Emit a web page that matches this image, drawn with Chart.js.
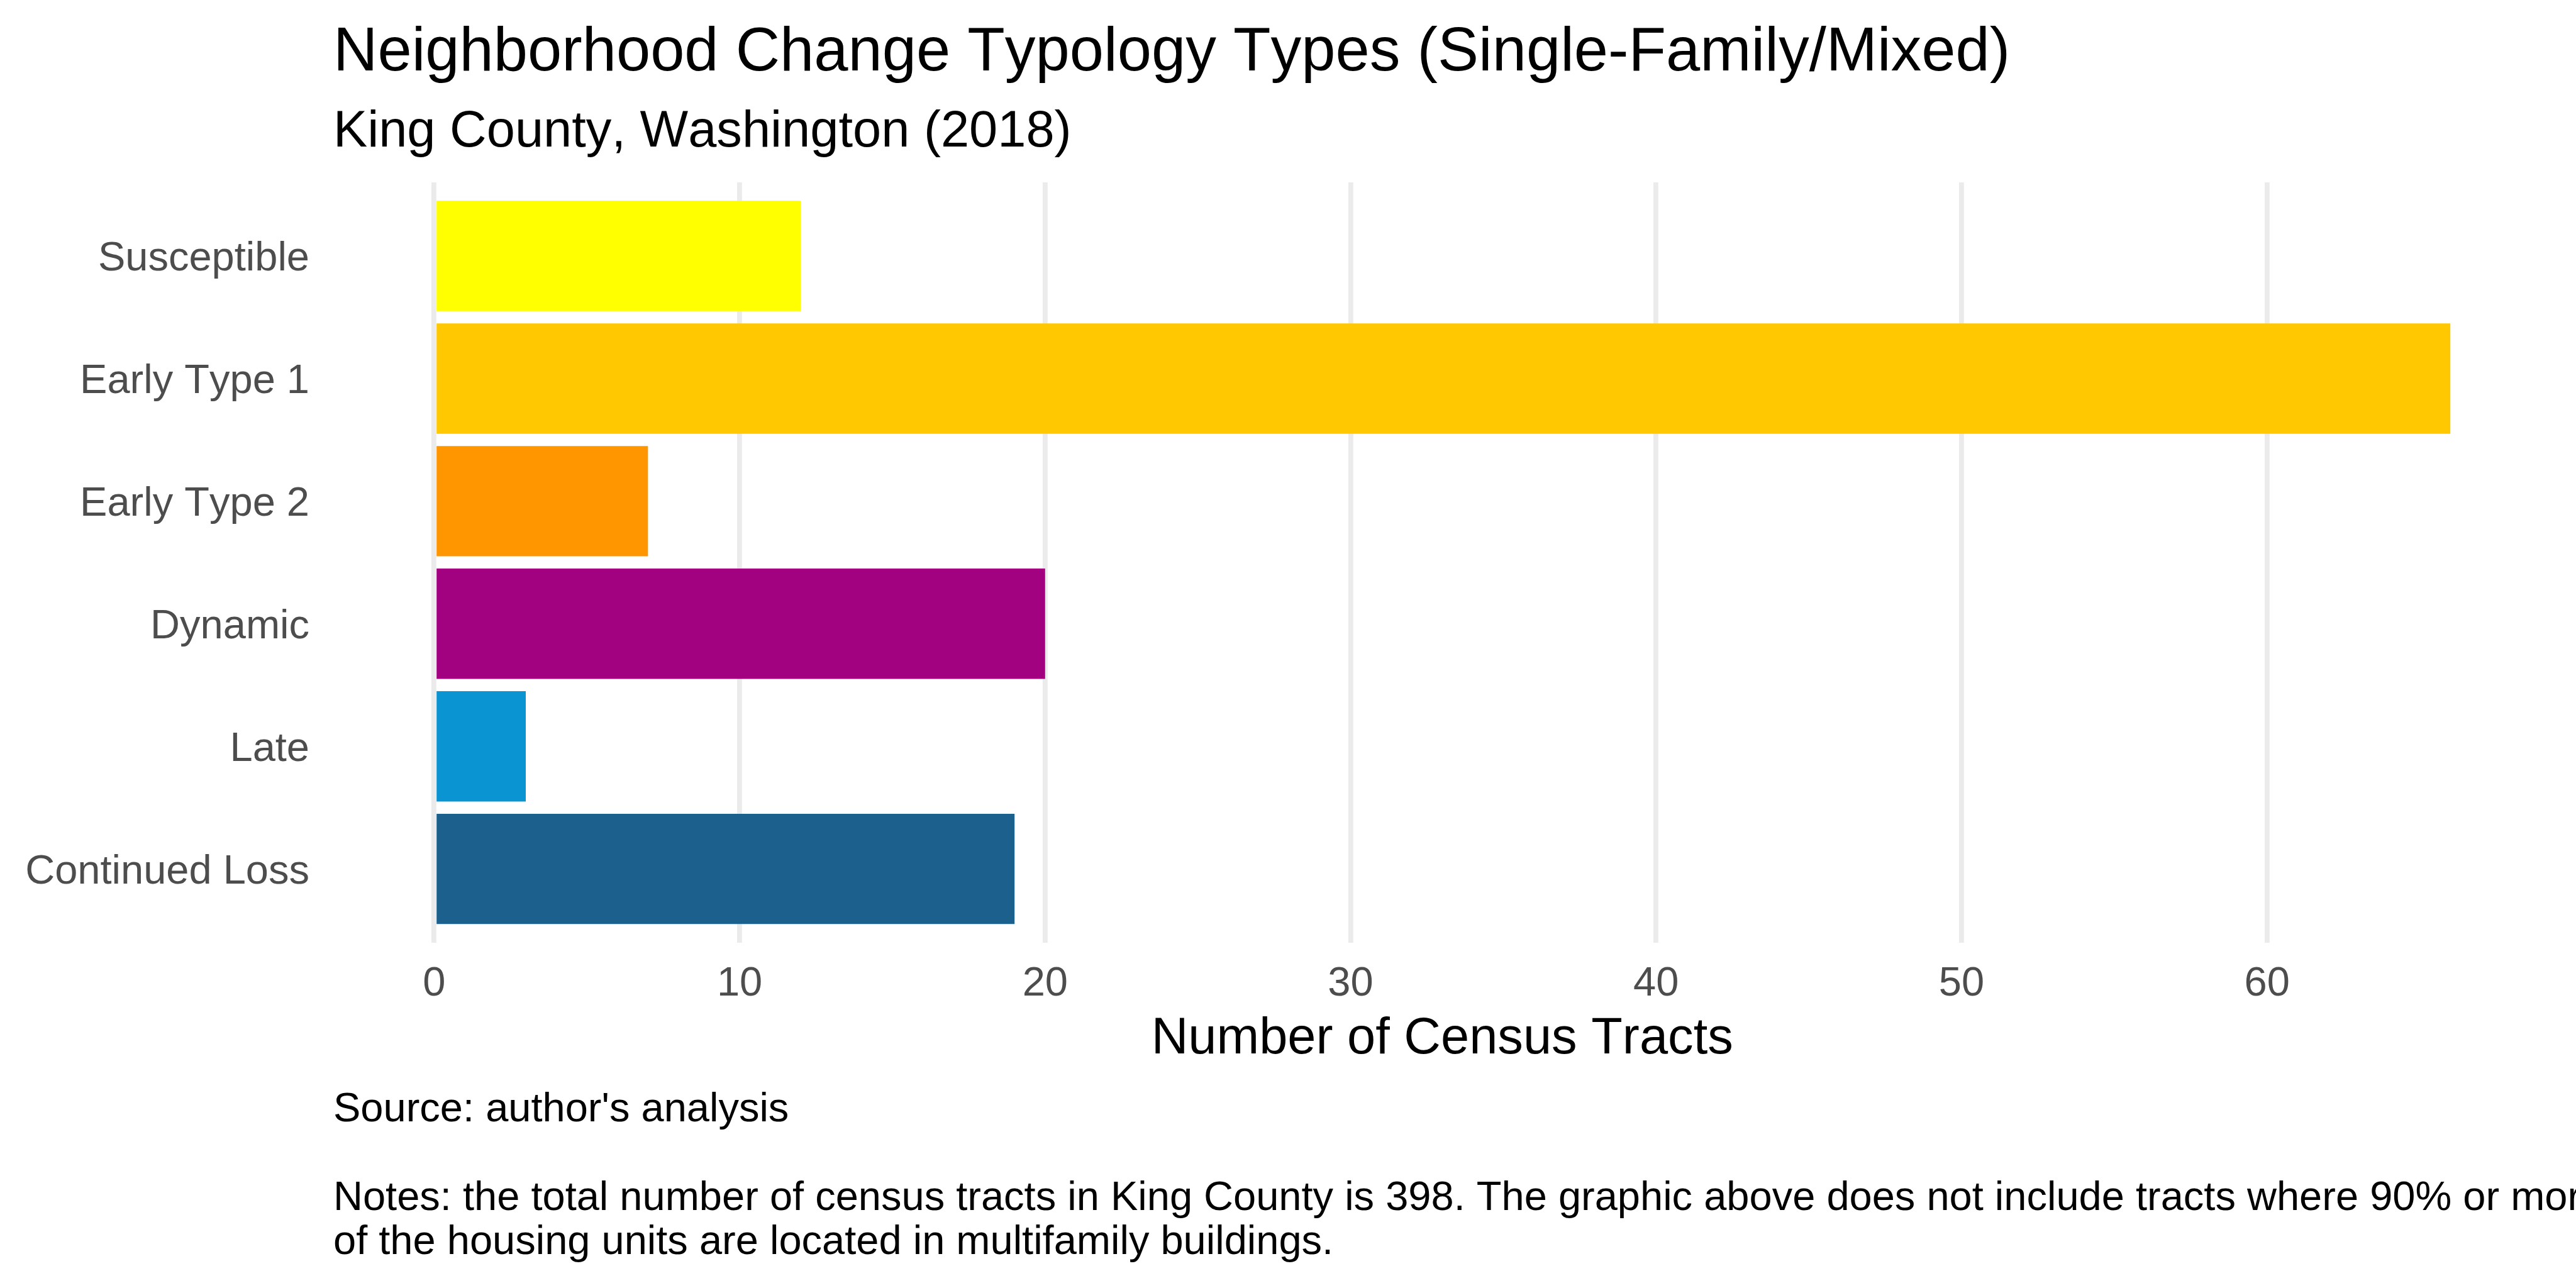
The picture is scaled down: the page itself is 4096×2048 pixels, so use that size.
<!DOCTYPE html>
<html>
<head>
<meta charset="utf-8">
<script src="https://cdn.jsdelivr.net/npm/chart.js@4.4.1/dist/chart.umd.min.js"></script>
<style>
  html, body { margin: 0; padding: 0; background: #ffffff; }
  #wrap { width: 4096px; height: 2048px; }
  canvas { display: block; font-kerning: none; }
</style>
</head>
<body>
<div id="wrap"><canvas id="chart" width="4096" height="2048"></canvas></div>
<script>
// ---- data ----
const categories = ['Susceptible', 'Early Type 1', 'Early Type 2', 'Dynamic', 'Late', 'Continued Loss'];
const tractCounts = [12, 66, 7, 20, 3, 19];
const xTickValues = [0, 10, 20, 30, 40, 50, 60];
const barColors = ['#FFFF00', '#FFC800', '#FF9600', '#A20280', '#0A94D2', '#1C618E'];

const titleText = 'Neighborhood Change Typology Types (Single-Family/Mixed)';
const subtitleText = 'King County, Washington (2018)';
const xAxisTitle = 'Number of Census Tracts';
const captionLines = [
  "Source: author's analysis",
  '',
  'Notes: the total number of census tracts in King County is 398. The graphic above does not include tracts where 90% or more',
  'of the housing units are located in multifamily buildings.'
];

// ---- layout (output px, reference x 0.975) ----
const S = 0.975;
const FONT = '"Liberation Sans", Arial, Helvetica, sans-serif';
const W = 4096, H = 2048;
const area = { left: 543.6 * S, right: 4160.5 * S, top: 297.5 * S, bottom: 1537 * S };
const xAxisHeight = 195;

const xMax = Math.max(...tractCounts);

const ggText = {
  id: 'ggText',
  beforeInit(chart) {
    if ('fontKerning' in chart.ctx) chart.ctx.fontKerning = 'none';
  },
  beforeDraw(chart) {
    const ctx = chart.ctx;
    if ('fontKerning' in ctx) ctx.fontKerning = 'none';
    ctx.save();
    ctx.fillStyle = '#ffffff';
    ctx.fillRect(0, 0, chart.width, chart.height);
    ctx.restore();
  },
  afterDraw(chart) {
    const ctx = chart.ctx;
    const x0 = chart.chartArea.left;
    ctx.save();
    if ('fontKerning' in ctx) ctx.fontKerning = 'none';
    ctx.fillStyle = '#000000';
    ctx.textAlign = 'left';
    ctx.textBaseline = 'alphabetic';
    ctx.font = (100 * S) + 'px ' + FONT;
    ctx.fillText(titleText, x0, 115 * S);
    ctx.font = (83.3 * S) + 'px ' + FONT;
    ctx.fillText(subtitleText, x0, 239 * S);
    ctx.font = (66.7 * S) + 'px ' + FONT;
    const capBase = [1829, 1901, 1973, 2045];
    captionLines.forEach((line, i) => {
      if (line) ctx.fillText(line, x0, capBase[i] * S);
    });
    ctx.restore();
  }
};

new Chart(document.getElementById('chart'), {
  type: 'bar',
  data: {
    datasets: [{
      data: tractCounts.map((v, i) => ({ x: v, y: i })),
      backgroundColor: barColors,
      borderWidth: 0,
      categoryPercentage: 0.9,
      barPercentage: 1.0
    }]
  },
  plugins: [ggText],
  options: {
    indexAxis: 'y',
    responsive: false,
    animation: false,
    devicePixelRatio: 1,
    layout: {
      padding: {
        left: 0,
        top: area.top,
        right: W - area.right,
        bottom: H - area.bottom - xAxisHeight
      }
    },
    plugins: {
      legend: { display: false },
      tooltip: { enabled: false },
      title: { display: false }
    },
    scales: {
      x: {
        type: 'linear',
        position: 'bottom',
        offset: false,
        min: -0.05 * xMax,
        max: 1.05 * xMax,
        afterBuildTicks: (scale) => { scale.ticks = xTickValues.map(v => ({ value: v })); },
        afterFit: (scale) => { scale.height = xAxisHeight; },
        grid: { color: '#EBEBEB', lineWidth: 7.8, drawTicks: false, offset: false },
        border: { display: false },
        ticks: {
          autoSkip: false,
          maxRotation: 0,
          color: '#4D4D4D',
          padding: 27.3,
          font: { family: FONT, size: 66.7 * S, lineHeight: 1.2 },
          callback: (v) => String(v)
        },
        title: {
          display: true,
          text: xAxisTitle,
          color: '#000000',
          padding: { top: 0, bottom: 0 },
          font: { family: FONT, size: 83.3 * S, lineHeight: 1.0 }
        }
      },
      y: {
        type: 'linear',
        position: 'left',
        reverse: true,
        offset: false,
        min: -0.6,
        max: categories.length - 1 + 0.6,
        afterBuildTicks: (scale) => { scale.ticks = categories.map((c, i) => ({ value: i })); },
        afterFit: (scale) => { scale.width = area.left; },
        grid: { display: false, drawTicks: false, offset: false },
        border: { display: false },
        ticks: {
          autoSkip: false,
          color: '#4D4D4D',
          padding: 38,
          labelOffset: 5,
          font: { family: FONT, size: 66.7 * S, lineHeight: 1.2 },
          callback: (v) => categories[v]
        }
      }
    }
  }
});
</script>
</body>
</html>
